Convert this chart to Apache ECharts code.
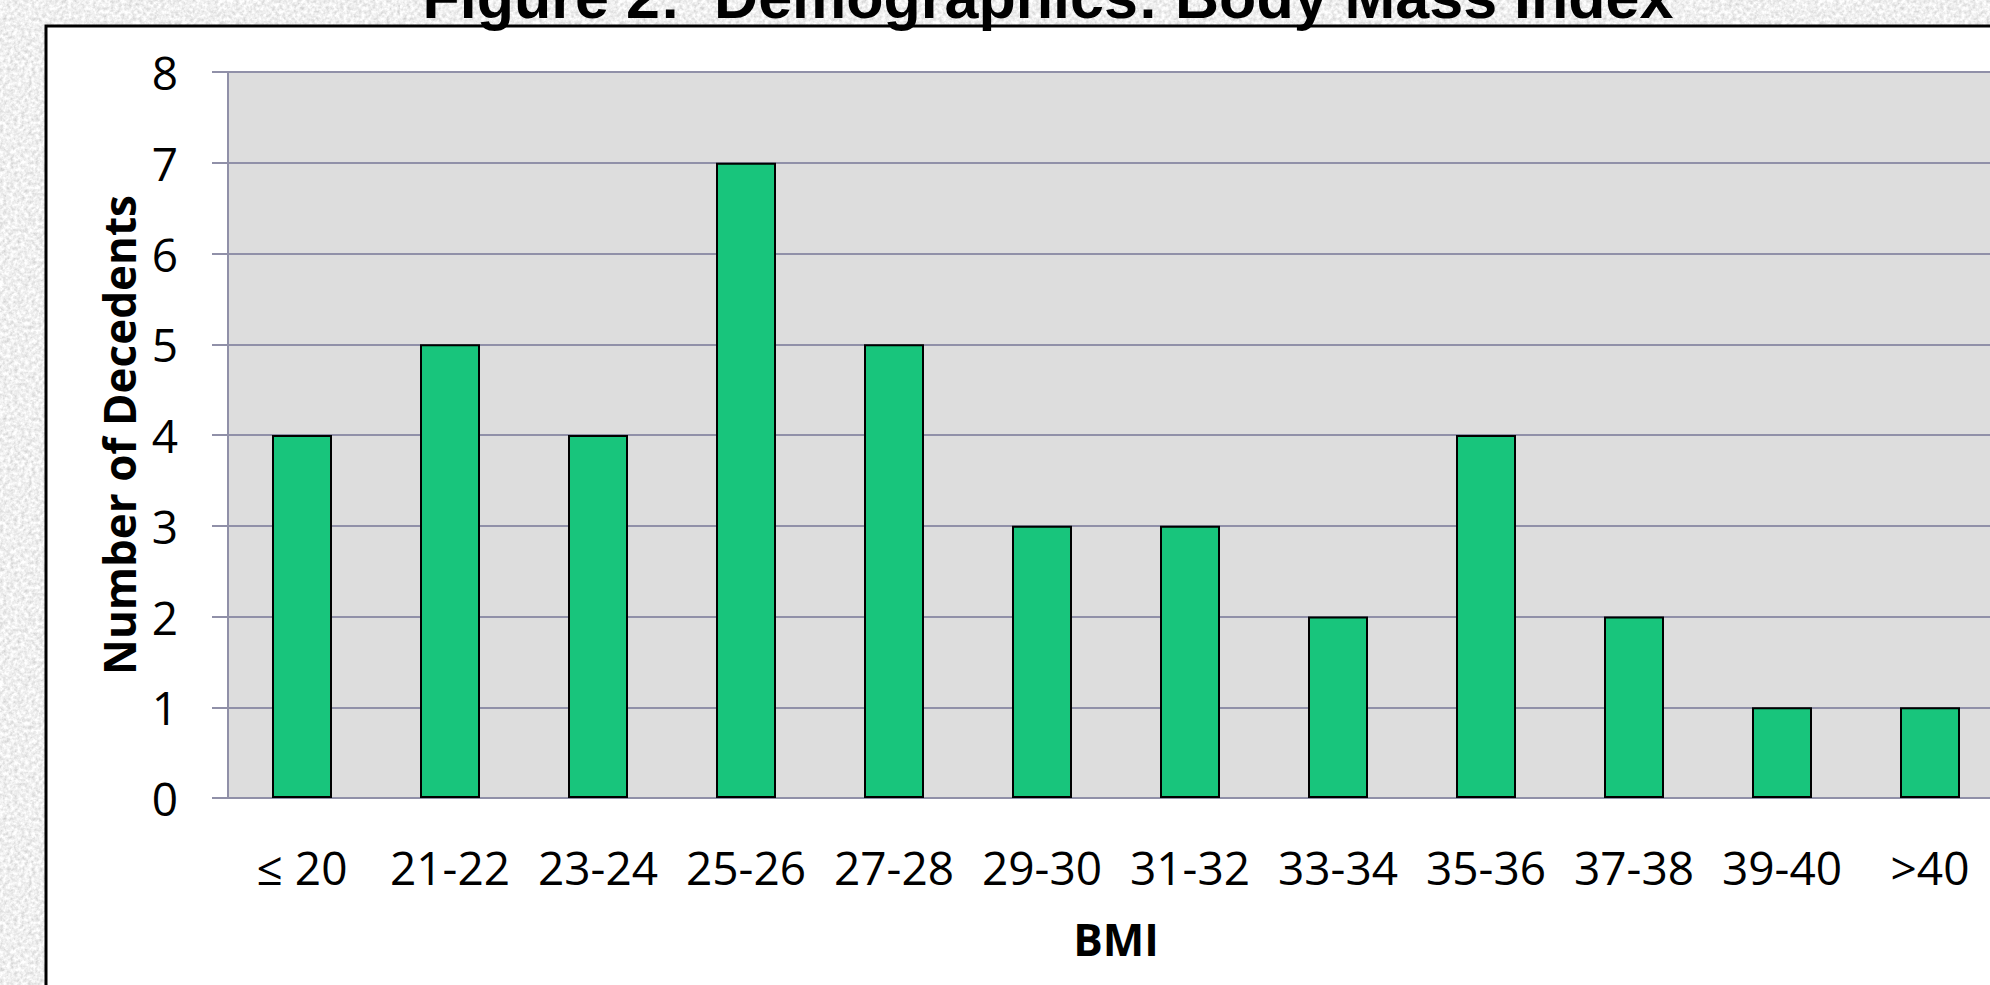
<!DOCTYPE html>
<html>
<head>
<meta charset="utf-8">
<title>Figure 2: Demographics: Body Mass Index</title>
<script src="https://cdn.jsdelivr.net/npm/echarts@6/dist/echarts.min.js"></script>
<style>
  html, body { margin: 0; padding: 0; width: 1990px; height: 985px; overflow: hidden; background: #e2e2e2; }
  /* the plot runs past the right edge of the page, so the drawing surface is wider than the window */
  #chart { width: 2030px; height: 985px; }
</style>
</head>
<body>
<div id="chart"></div>
<script>
// BMI bins and the number of decedents in each
const categories = ['≤ 20', '21-22', '23-24', '25-26', '27-28', '29-30', '31-32', '33-34', '35-36', '37-38', '39-40', '>40'];
const decedents = [4, 5, 4, 7, 5, 3, 3, 2, 4, 2, 1, 1];
const chartTitle = 'Figure 2:  Demographics: Body Mass Index';
const xName = 'BMI';
const yName = 'Number of Decedents';

// Speckled stone texture behind the white chart panel
const noiseSvg =
  "<svg xmlns='http://www.w3.org/2000/svg' width='400' height='400'>" +
  "<filter id='n'><feTurbulence type='fractalNoise' baseFrequency='0.28' numOctaves='4' stitchTiles='stitch'/>" +
  "<feColorMatrix type='matrix' values='0.6 0 0 0 0.57  0.6 0 0 0 0.57  0.6 0 0 0 0.57  0 0 0 0 1'/></filter>" +
  "<rect width='100%' height='100%' filter='url(#n)'/></svg>";
document.body.style.backgroundImage = 'url("data:image/svg+xml,' + encodeURIComponent(noiseSvg) + '")';

const gridColor = '#9090a8';
const bodyFont = '"Open Sans", "Noto Sans", sans-serif';

const chart = echarts.init(document.getElementById('chart'), null, { renderer: 'svg' });
chart.setOption({
  backgroundColor: 'transparent',
  animation: false,
  graphic: [
    {
      type: 'rect',
      silent: true,
      z: -10,
      shape: { x: 46, y: 26, width: 2040, height: 1000 },
      style: { fill: '#ffffff', stroke: '#000000', lineWidth: 3 }
    },
    {
      type: 'text',
      silent: true,
      z: 10,
      x: 1048,
      y: -3,
      style: {
        text: chartTitle,
        font: 'bold 61px "Liberation Sans", Arial, sans-serif',
        fill: '#000000',
        textAlign: 'center',
        textVerticalAlign: 'middle',
        align: 'center',
        verticalAlign: 'middle'
      }
    }
  ],
  grid: {
    left: 228,
    top: 72,
    width: 1776,
    height: 726,
    show: true,
    backgroundColor: '#dddddd',
    borderWidth: 0
  },
  xAxis: {
    type: 'category',
    data: categories,
    axisLine: { show: true, lineStyle: { color: gridColor, width: 2 } },
    axisTick: { show: false },
    axisLabel: {
      interval: 0,
      margin: 46,
      fontSize: 46,
      fontFamily: bodyFont,
      color: '#000000'
    },
    name: xName,
    nameLocation: 'middle',
    nameGap: 119,
    nameTextStyle: { fontSize: 44, fontWeight: 'bold', fontFamily: bodyFont, color: '#000000' }
  },
  yAxis: {
    type: 'value',
    min: 0,
    max: 8,
    interval: 1,
    axisLine: { show: true, lineStyle: { color: gridColor, width: 2 } },
    axisTick: { show: true, length: 16, lineStyle: { color: gridColor, width: 2 } },
    splitLine: { show: true, lineStyle: { color: gridColor, width: 2 } },
    axisLabel: {
      margin: 50,
      fontSize: 46,
      fontFamily: bodyFont,
      color: '#000000'
    },
    name: yName,
    nameLocation: 'middle',
    nameGap: 87,
    nameTextStyle: { fontSize: 44, fontWeight: 'bold', fontFamily: bodyFont, color: '#000000' }
  },
  series: [
    {
      type: 'bar',
      data: decedents,
      barWidth: 60,
      itemStyle: { color: '#18c57c', borderColor: '#000000', borderWidth: 2 },
      emphasis: { disabled: true }
    }
  ]
});
</script>
</body>
</html>
